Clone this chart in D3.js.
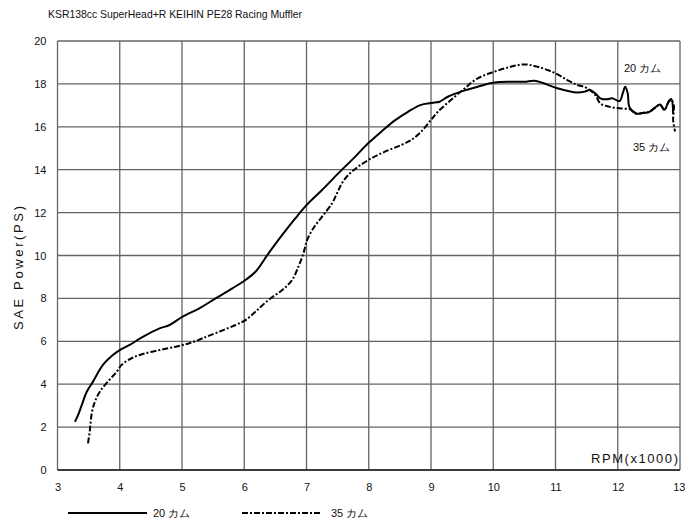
<!DOCTYPE html>
<html>
<head>
<meta charset="utf-8">
<script src="https://cdn.jsdelivr.net/npm/d3@7"></script>
<style>
  html, body { margin: 0; padding: 0; background: #fff; }
  svg { display: block; font-family: "Liberation Sans", Arial, sans-serif; }
</style>
</head>
<body>
<svg id="chart" width="685" height="520"></svg>
<script>
const title = "KSR138cc SuperHead+R KEIHIN PE28 Racing Muffler";
const xLabel = "RPM(x1000)";
const yLabel = "SAE Power(PS)";
const xTicks = [3, 4, 5, 6, 7, 8, 9, 10, 11, 12, 13];
const yTicks = [0, 2, 4, 6, 8, 10, 12, 14, 16, 18, 20];
const seriesNames = ["20 カム", "35 カム"];

// 20 cam (solid)
const rpm20 = [3.28, 3.33, 3.39, 3.47, 3.57, 3.73, 3.89, 4.0, 4.16, 4.37, 4.64, 4.8, 5.01, 5.28, 5.54, 5.81, 6.02, 6.18, 6.39, 6.61, 6.82, 7.0, 7.25, 7.51, 7.78, 7.99, 8.2, 8.42, 8.63, 8.84, 9.06, 9.14, 9.27, 9.48, 9.75, 10.02, 10.28, 10.5, 10.66, 10.81, 11.03, 11.35, 11.47, 11.55, 11.64, 11.72, 11.83, 11.91, 12.03, 12.08, 12.12, 12.16, 12.19, 12.3, 12.41, 12.51, 12.59, 12.68, 12.75, 12.82, 12.86, 12.89];
const ps20 = [2.25, 2.56, 3.03, 3.65, 4.12, 4.9, 5.36, 5.59, 5.83, 6.21, 6.6, 6.76, 7.15, 7.54, 8.0, 8.47, 8.86, 9.24, 10.1, 10.96, 11.73, 12.35, 13.05, 13.83, 14.6, 15.23, 15.77, 16.3, 16.7, 17.02, 17.13, 17.17, 17.4, 17.64, 17.87, 18.06, 18.1, 18.1, 18.15, 18.03, 17.8, 17.6, 17.64, 17.72, 17.56, 17.33, 17.28, 17.33, 17.2, 17.56, 17.87, 17.56, 16.9, 16.62, 16.64, 16.7, 16.88, 17.04, 16.8, 17.2, 17.3, 16.6];

// 35 cam (dash-dot)
const rpm35 = [3.49, 3.52, 3.55, 3.6, 3.68, 3.81, 3.95, 4.03, 4.19, 4.37, 4.64, 4.9, 5.12, 5.33, 5.6, 5.86, 6.02, 6.18, 6.39, 6.61, 6.77, 6.87, 6.95, 7.01, 7.11, 7.25, 7.41, 7.49, 7.57, 7.67, 7.83, 8.04, 8.26, 8.52, 8.68, 8.84, 9.0, 9.11, 9.32, 9.54, 9.75, 10.02, 10.28, 10.5, 10.71, 10.98, 11.19, 11.35, 11.47, 11.55, 11.64, 11.72, 11.86, 12.03, 12.2, 12.3, 12.41, 12.51, 12.59, 12.68, 12.75, 12.82, 12.86, 12.9, 12.89, 12.92];
const ps35 = [1.24, 1.86, 2.64, 3.18, 3.65, 4.12, 4.58, 4.9, 5.21, 5.41, 5.59, 5.75, 5.91, 6.14, 6.45, 6.76, 6.99, 7.38, 7.93, 8.39, 8.86, 9.48, 10.1, 10.72, 11.27, 11.81, 12.43, 12.9, 13.37, 13.75, 14.14, 14.53, 14.84, 15.15, 15.38, 15.77, 16.32, 16.7, 17.25, 17.79, 18.26, 18.57, 18.8, 18.91, 18.8, 18.52, 18.18, 17.95, 17.85, 17.72, 17.48, 17.09, 16.94, 16.86, 16.81, 16.6, 16.66, 16.7, 16.86, 17.02, 16.78, 17.17, 17.25, 17.02, 16.32, 15.78];

const svg = d3.select("#chart");
const m = { left: 57.5, right: 680, top: 41, bottom: 470 };
const x = d3.scaleLinear().domain([3, 13]).range([m.left, m.right]);
const y = d3.scaleLinear().domain([0, 20]).range([m.bottom, m.top]);

const gridColor = "#646464";

// grid
svg.append("g").selectAll("line.v").data(xTicks).join("line")
  .attr("x1", d => x(d)).attr("x2", d => x(d))
  .attr("y1", m.top).attr("y2", m.bottom)
  .attr("stroke", gridColor).attr("stroke-width", 1.3);
svg.append("g").selectAll("line.h").data(yTicks).join("line")
  .attr("x1", m.left).attr("x2", m.right)
  .attr("y1", d => y(d)).attr("y2", d => y(d))
  .attr("stroke", gridColor).attr("stroke-width", 1.3);
svg.append("line").attr("x1", m.left).attr("x2", m.right).attr("y1", m.bottom).attr("y2", m.bottom)
  .attr("stroke", "#222").attr("stroke-width", 1.5);

// axes tick labels via d3 axes
const xAxis = d3.axisBottom(x).tickValues(xTicks).tickSize(0).tickPadding(0).tickFormat(d3.format("d"));
const gx = svg.append("g").attr("transform", `translate(0,${m.bottom + 13})`).call(xAxis);
gx.select(".domain").remove();
gx.selectAll("text").attr("font-size", 11).attr("fill", "#111").attr("font-family", "Liberation Sans, Arial, sans-serif");
// keep the last label inside the picture
gx.selectAll("text").filter(d => d === 13).attr("text-anchor", "end").attr("dx", 5);

const yAxis = d3.axisLeft(y).tickValues(yTicks).tickSize(0).tickPadding(0).tickFormat(d3.format("d"));
const gy = svg.append("g").attr("transform", `translate(${m.left - 11},0)`).call(yAxis);
gy.select(".domain").remove();
gy.selectAll("text").attr("font-size", 11).attr("fill", "#111").attr("font-family", "Liberation Sans, Arial, sans-serif");

// title
svg.append("text").attr("x", 48).attr("y", 18).attr("font-size", 10.5).attr("fill", "#111")
  .attr("textLength", 254).attr("lengthAdjust", "spacingAndGlyphs").text(title);

// axis labels
svg.append("text").attr("x", 591).attr("y", 463).attr("font-size", 13).attr("fill", "#111")
  .attr("textLength", 87).attr("lengthAdjust", "spacing").text(xLabel);
svg.append("text").attr("transform", "translate(23,268) rotate(-90)").attr("text-anchor", "middle")
  .attr("font-size", 13).attr("fill", "#111")
  .attr("textLength", 124).attr("lengthAdjust", "spacing").text(yLabel);

// lines
const line = d3.line().x(d => x(d[0])).y(d => y(d[1])).curve(d3.curveCatmullRom.alpha(0.5));
const d20 = rpm20.map((r, i) => [r, ps20[i]]);
const d35 = rpm35.map((r, i) => [r, ps35[i]]);
svg.append("path").datum(d20).attr("d", line).attr("fill", "none")
  .attr("stroke", "#000").attr("stroke-width", 2).attr("stroke-linejoin", "round");
svg.append("path").datum(d35).attr("d", line).attr("fill", "none")
  .attr("stroke", "#000").attr("stroke-width", 2).attr("stroke-dasharray", "6,2,2,2");

// annotations
svg.append("text").attr("x", 624).attr("y", 72).attr("font-size", 11).attr("fill", "#111").text(seriesNames[0]);
svg.append("text").attr("x", 633).attr("y", 151).attr("font-size", 11).attr("fill", "#111").text(seriesNames[1]);

// legend
const lg = svg.append("g");
lg.append("line").attr("x1", 68).attr("x2", 147).attr("y1", 513).attr("y2", 513)
  .attr("stroke", "#000").attr("stroke-width", 2);
lg.append("text").attr("x", 153).attr("y", 517).attr("font-size", 11).attr("fill", "#111").text(seriesNames[0]);
lg.append("line").attr("x1", 242).attr("x2", 320).attr("y1", 513).attr("y2", 513)
  .attr("stroke", "#000").attr("stroke-width", 2).attr("stroke-dasharray", "6,2,2,2");
lg.append("text").attr("x", 331).attr("y", 517).attr("font-size", 11).attr("fill", "#111").text(seriesNames[1]);
</script>
</body>
</html>
